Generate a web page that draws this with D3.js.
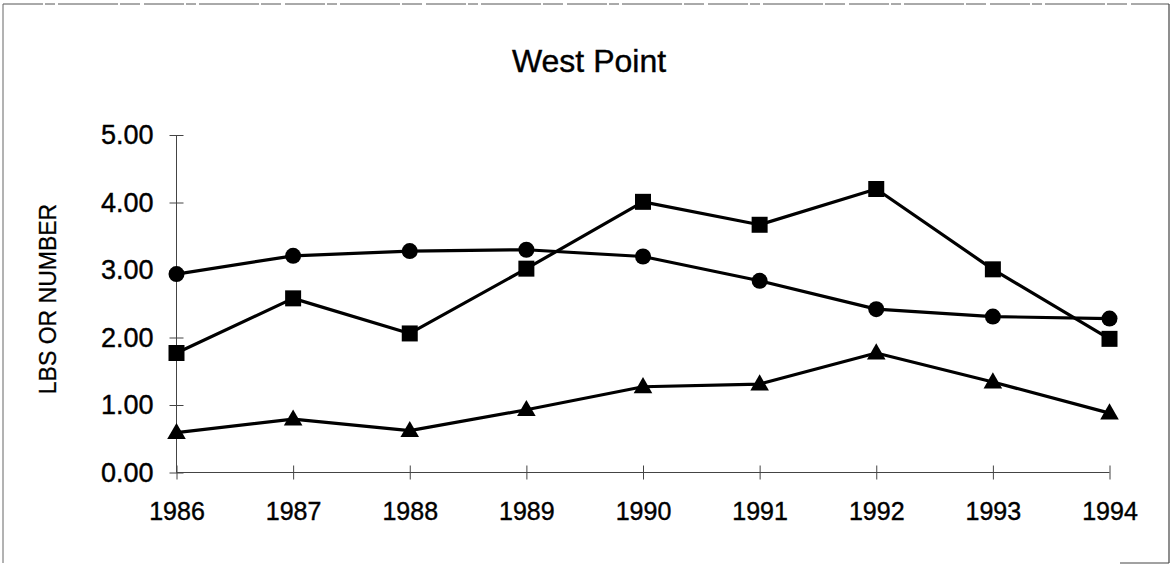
<!DOCTYPE html>
<html>
<head>
<meta charset="utf-8">
<script src="https://cdn.jsdelivr.net/npm/d3@7"></script>
<style>
  html, body { margin: 0; padding: 0; background: #fff; }
  svg { display: block; }
  text { font-family: "Liberation Sans", Arial, Helvetica, sans-serif; fill: #000; }
</style>
</head>
<body>
<svg id="chart" width="1173" height="565"></svg>
<script>
const years = [1986, 1987, 1988, 1989, 1990, 1991, 1992, 1993, 1994];
const circleSeries = [2.94, 3.21, 3.28, 3.30, 3.20, 2.84, 2.42, 2.31, 2.28];
const squareSeries = [1.77, 2.58, 2.06, 3.02, 4.01, 3.67, 4.20, 3.01, 1.98];
const triangleSeries = [0.59, 0.79, 0.62, 0.93, 1.27, 1.31, 1.77, 1.34, 0.88];
const yTicks = [0, 1, 2, 3, 4, 5];
const titleText = "West Point";
const yAxisTitle = "LBS OR NUMBER";

const svg = d3.select("#chart");

// frame (scanned border)
svg.append("line").attr("x1", 3).attr("x2", 1169).attr("y1", 4).attr("y2", 4)
  .attr("stroke", "#555").attr("stroke-width", 1).attr("stroke-dasharray", "40 2 10 3 60 2 20 4");
svg.append("line").attr("x1", 3).attr("x2", 3).attr("y1", 4).attr("y2", 563)
  .attr("stroke", "#666").attr("stroke-width", 1);
svg.append("line").attr("x1", 1169).attr("x2", 1169).attr("y1", 4).attr("y2", 563)
  .attr("stroke", "#444").attr("stroke-width", 1.2);
svg.append("line").attr("x1", 1120).attr("x2", 1169).attr("y1", 563).attr("y2", 563)
  .attr("stroke", "#444").attr("stroke-width", 1);

const x = d3.scaleLinear().domain([1986, 1994]).range([176.5, 1109.5]);
const y = d3.scaleLinear().domain([0, 5]).range([472.5, 135]);

// title
svg.append("text").attr("x", 589).attr("y", 72).attr("text-anchor", "middle")
  .style("font-size", "32px").attr("stroke", "#000").attr("stroke-width", 0.4).text(titleText);

// y axis title
svg.append("text").attr("transform", "translate(56,299) rotate(-90)")
  .attr("text-anchor", "middle").style("font-size", "23px")
  .attr("stroke", "#000").attr("stroke-width", 0.3).text(yAxisTitle);

// y axis
const yAxis = svg.append("g").attr("transform", `translate(${x(1986)},0)`)
  .call(d3.axisLeft(y).tickValues(yTicks).tickFormat(d3.format(".2f")).tickSize(7).tickPadding(16));
yAxis.select(".domain").attr("stroke", "#444").attr("d", `M0,${y(5)}V${y(0)}`);
yAxis.selectAll(".tick line").attr("x1", -7).attr("x2", 7).attr("stroke", "#444");
yAxis.selectAll(".tick text").attr("x", -23).style("font-size", "27px")
  .style("font-family", '"Liberation Sans", Arial, sans-serif').attr("fill", "#000")
  .attr("stroke", "#000").attr("stroke-width", 0.4);

// x axis
const xAxis = svg.append("g").attr("transform", `translate(0,${y(0)})`)
  .call(d3.axisBottom(x).tickValues(years).tickFormat(d3.format("d")).tickSize(7));
xAxis.select(".domain").attr("stroke", "#444").attr("d", `M${x(1986)},0H${x(1994)}`);
xAxis.selectAll(".tick line").attr("y1", -7).attr("y2", 7).attr("stroke", "#444");
xAxis.selectAll(".tick text").attr("y", 29.5).style("font-size", "25px")
  .style("font-family", '"Liberation Sans", Arial, sans-serif').attr("fill", "#000")
  .attr("stroke", "#000").attr("stroke-width", 0.4);

const line = d3.line().x((d, i) => x(years[i])).y(d => y(d));

const series = [
  { data: circleSeries, symbol: d3.symbolCircle, size: Math.PI * 8 * 8, dy: 0 },
  { data: squareSeries, symbol: d3.symbolSquare, size: 16 * 16, dy: 0 },
  { data: triangleSeries, symbol: d3.symbolTriangle, size: 150, dy: 1 }
];

series.forEach(s => {
  svg.append("path").datum(s.data).attr("d", line)
    .attr("fill", "none").attr("stroke", "#000").attr("stroke-width", 3.2)
    .attr("stroke-linejoin", "round");
});
series.forEach(s => {
  svg.append("g").selectAll("path").data(s.data).join("path")
    .attr("transform", (d, i) => `translate(${x(years[i])},${y(d) + s.dy})`)
    .attr("d", d3.symbol().type(s.symbol).size(s.size))
    .attr("fill", "#000");
});
</script>
</body>
</html>
